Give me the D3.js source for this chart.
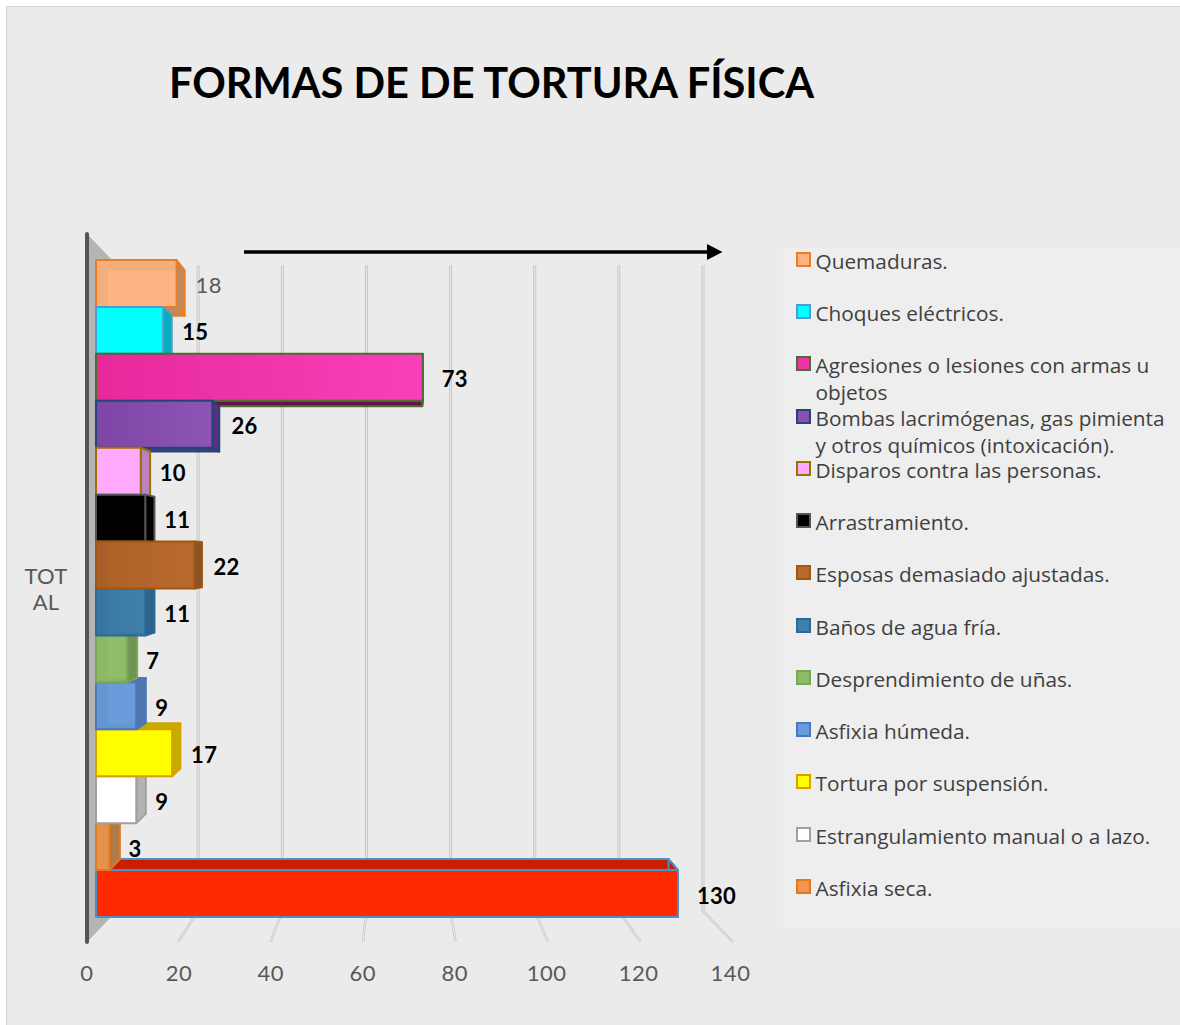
<!DOCTYPE html>
<html><head><meta charset="utf-8">
<script src="https://d3js.org/d3.v7.min.js"></script>
<style>html,body{margin:0;padding:0;background:#fff}svg{display:block}</style>
</head><body><svg id="c" width="1180" height="1025"></svg>
<script>
const categories=["Quemaduras.","Choques eléctricos.","Agresiones o lesiones con armas u objetos","Bombas lacrimógenas, gas pimienta y otros químicos (intoxicación).","Disparos contra las personas.","Arrastramiento.","Esposas demasiado ajustadas.","Baños de agua fría.","Desprendimiento de uñas.","Asfixia húmeda.","Tortura por suspensión.","Estrangulamiento manual o a lazo.","Asfixia seca.","Ahogamiento."];
const values=[18,15,73,26,10,11,22,11,7,9,17,9,3,130];
const fills=["#fdb683","#00ffff","#ee33aa","#8a4fb0","#ffaaff","#000000","#b8692f","#3f7fa9","#8dbb68","#6a9bdb","#ffff00","#ffffff","#f09650","#ff2a00"];
const fills2=["#fdb683","#00ffff","#e62a9c","#7f45a6","#ffaaff","#000000","#ad6228","#3a79a3","#94c06e","#6a9bdb","#ffff00","#ffffff","#f09650","#ff2a00"];
const fills3=["#fdb683","#00ffff","#fa3fba","#8c55b5","#ffaaff","#000000","#b8692f","#3f7fa9","#8dbb68","#6a9bdb","#ffff00","#ffffff","#f09650","#ff2a00"];
const strokes=["#ee7d22","#4f9bd0","#4e6b30","#264478","#997300","#555555","#a0560f","#2a6a98","#78a853","#4a78bc","#d9a000","#a0a0a0","#e07a20","#4a8fc8"];
const sides=["#bf8a60","#00aebc","#6b0e4e","#57307f","#bf80bf","#000000","#8a5228","#2f6288","#6f9456","#4f77ab","#bfb000","#b3b3b3","#b07a48","#c81e00"];
const translucent=[1,0,0,0,0,0,1,1,1,1,0,0,1,0];
const legendLines=[["Quemaduras."],["Choques eléctricos."],["Agresiones o lesiones con armas u","objetos"],["Bombas lacrimógenas, gas pimienta","y otros químicos (intoxicación)."],["Disparos contra las personas."],["Arrastramiento."],["Esposas demasiado ajustadas."],["Baños de agua fría."],["Desprendimiento de uñas."],["Asfixia húmeda."],["Tortura por suspensión."],["Estrangulamiento manual o a lazo."],["Asfixia seca."]];
const ticks=[0,20,40,60,80,100,120,140];
const axisName=["TOT","AL"];
const title="FORMAS DE DE TORTURA FÍSICA";

const svg=d3.select("#c");
const x=d3.scaleLinear().domain([0,130]).range([96,678]);
const xTick=d3.scaleLinear().domain([0,140]).range([87,730.5]);
const xFloor=d3.scaleLinear().domain([0,140]).range([85.5,733]);
const xWall=d3.scaleLinear().domain([0,140]).range([114,703]);
const y=d3.scaleBand().domain(categories).range([260,917]);
const VX=408,VY=556,K=0.965;
const pb=(px,py)=>[VX+(px-VX)*K,VY+(py-VY)*K];
const poly=p=>p.map(q=>q.join(",")).join(" ");

const defs=svg.append("defs");
categories.forEach((c,i)=>{
  const g=defs.append("linearGradient").attr("id","g"+i);
  g.append("stop").attr("offset","0").attr("stop-color",fills2[i]);
  g.append("stop").attr("offset","1").attr("stop-color",fills3[i]);
});

svg.append("rect").attr("x",6.5).attr("y",6.5).attr("width",1180).attr("height",1025).attr("fill","#ebebeb").attr("stroke","#d0d0d0");
svg.append("rect").attr("x",783).attr("y",248).attr("width",397).attr("height",680).attr("fill","#eeeeee");

svg.append("text").attr("x",169).attr("y",98).attr("font-family","Lato,sans-serif").attr("font-weight",700).attr("font-size",42).attr("fill","#000").attr("textLength",645).attr("lengthAdjust","spacingAndGlyphs").text(title);

// wall
svg.append("polygon").attr("points",poly([[87,234],[114,262],[114,914],[87,942]])).attr("fill","#b5b5b5");
svg.append("line").attr("x1",87).attr("x2",87).attr("y1",234).attr("y2",942).attr("stroke","#555").attr("stroke-width",4).attr("stroke-linecap","round");

// gridlines
const gg=svg.append("g").attr("fill","none");
ticks.slice(1).forEach(t=>{
  const wall=[[xWall(t),265],[xWall(t),911]], floor=[[xWall(t),911],[xFloor(t),942]];
  gg.append("polyline").attr("points",poly(wall)).attr("stroke","#c6c6c6").attr("stroke-width",3);
  gg.append("polyline").attr("points",poly(wall)).attr("stroke","#e2e2e2").attr("stroke-width",1.4);
  gg.append("polyline").attr("points",poly(floor)).attr("stroke","#c6c6c6").attr("stroke-width",2.4);
  gg.append("polyline").attr("points",poly(floor)).attr("stroke","#ececec").attr("stroke-width",1);
});

// arrow
svg.append("line").attr("x1",244).attr("x2",710).attr("y1",252).attr("y2",252).attr("stroke","#000").attr("stroke-width",3.6);
svg.append("polygon").attr("points","707,244 722.5,252 707,260").attr("fill","#000");

// bars painted from outside inwards
const idx=categories.map((_,i)=>i);
const mid=c=>y(c)+y.bandwidth()/2;
const order=idx.slice().sort((a,b)=>Math.abs(mid(categories[b])-VY)-Math.abs(mid(categories[a])-VY));
const bars=svg.append("g");
order.forEach(i=>{
  const c=categories[i],x1=x(values[i]),x0=x(0),y0=y(c),y1=y0+y.bandwidth();
  const s=strokes[i],g=bars.append("g").attr("stroke",s).attr("stroke-width",2).attr("stroke-linejoin","round");
  const [bx1,by0]=pb(x1,y0),[,by1]=pb(x1,y1),[bx0]=pb(x0,y0);
  if(y0>VY) g.append("polygon").attr("points",poly([[x0,y0],[x1,y0],[bx1,by0],[bx0,by0]])).attr("fill",sides[i]);
  if(y1<VY) g.append("polygon").attr("points",poly([[x0,y1],[x1,y1],[bx1,by1],[bx0,by1]])).attr("fill",sides[i]);
  g.append("polygon").attr("points",poly([[x1,y0],[bx1,by0],[bx1,by1],[x1,y1]])).attr("fill",sides[i]);
  g.append("rect").attr("x",x0).attr("y",y0).attr("width",x1-x0).attr("height",y1-y0).attr("fill","url(#g"+i+")");
  if(translucent[i]){
    // see-through inner faces of the glassy bars
    const inner=bars.append("g").attr("fill",sides[i]).attr("fill-opacity",0.16).attr("stroke","none");
    const ix=Math.min(x0+12,x1-1);
    inner.append("polygon").attr("points",poly([[x0+1,y0+1],[ix,by0],[ix,by1],[x0+1,y1-1]]));
    if(y1<VY) inner.append("polygon").attr("points",poly([[x0+1,y0+1],[x1-1,y0+1],[x1-1,by0],[ix,by0]]));
    if(y0>VY) inner.append("polygon").attr("points",poly([[ix,by1],[x1-1,by1],[x1-1,y1-1],[x0+1,y1-1]]));
  }
});

// data labels
svg.append("g").selectAll("text").data(values).join("text")
 .attr("x",d=>x(d)+19).attr("y",(d,i)=>mid(categories[i])+10)
 .attr("font-family","Lato,sans-serif").attr("font-size",22).attr("letter-spacing",0.3)
 .attr("font-weight",(d,i)=>i===0?400:700).attr("fill",(d,i)=>i===0?"#595959":"#000").text(d=>d);

// axis labels
svg.append("g").selectAll("text").data(ticks).join("text")
 .attr("x",d=>xTick(d)).attr("y",981).attr("text-anchor","middle")
 .attr("font-family","Lato,sans-serif").attr("font-size",22).attr("letter-spacing",0.5).attr("fill","#595959").text(d=>d);
svg.append("g").selectAll("text").data(axisName).join("text")
 .attr("x",46).attr("y",(d,i)=>584+i*26).attr("text-anchor","middle")
 .attr("font-family","Lato,sans-serif").attr("font-size",22).attr("letter-spacing",0.2).attr("fill","#595959").text(d=>d);

// legend
const ly=[261,313,365,418,470,522,574,627,679,731,783,836,888];
const leg=svg.append("g");
legendLines.forEach((lines,i)=>{
  leg.append("rect").attr("x",797).attr("y",ly[i]-8).attr("width",13).attr("height",13).attr("fill",fills[i]).attr("stroke",strokes[i]).attr("stroke-width",2);
  lines.forEach((t,j)=>leg.append("text").attr("x",815.5).attr("y",ly[i]+7.5+j*27).attr("font-family","'Open Sans',sans-serif").attr("font-size",20.8).attr("fill","#404040").text(t));
});
</script></body></html>
